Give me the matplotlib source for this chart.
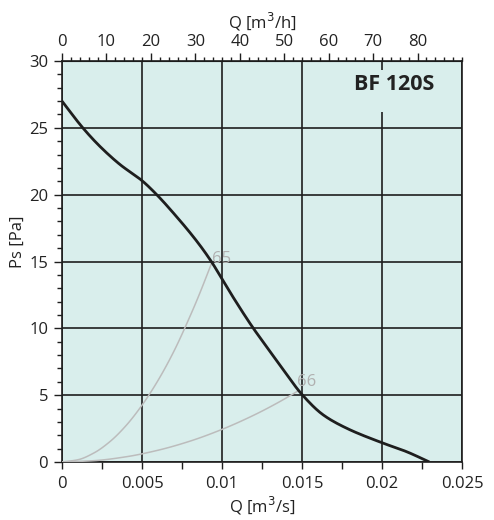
import numpy as np
import matplotlib
matplotlib.use("Agg")
import matplotlib.pyplot as plt
from matplotlib.patches import Rectangle
from matplotlib.ticker import MultipleLocator

plt.rcParams['font.family'] = ['Open Sans', 'DejaVu Sans']

# fan curve BF 120S
fan_q = [0, 0.0013, 0.00238, 0.00363, 0.005, 0.00592, 0.00696, 0.0085, 0.00936,
         0.01, 0.01071, 0.01196, 0.01279, 0.01383, 0.015, 0.01633, 0.0178,
         0.02, 0.02154, 0.02296]
fan_ps = [27.0, 25.0, 23.6, 22.25, 21.05, 20.0, 18.63, 16.4, 14.95,
          13.7, 12.3, 10.0, 8.62, 6.9, 5.05, 3.52, 2.52,
          1.44, 0.77, 0.0]

# system curves (grey)
q65 = [0, 0.001, 0.002, 0.003, 0.004, 0.005, 0.006, 0.007, 0.008, 0.0085, 0.00936]
ps65 = [0, 0.17, 0.68, 1.53, 2.72, 4.25, 6.1, 8.3, 10.9, 12.3, 14.9]
q66 = [0, 0.002, 0.004, 0.006, 0.008, 0.01, 0.012, 0.0136, 0.0148]
ps66 = [0, 0.1, 0.39, 0.88, 1.56, 2.44, 3.51, 4.51, 5.35]
sys_labels = [("65", 0.0094, 14.9), ("66", 0.0147, 5.65)]

x_ticks = [0, 0.005, 0.01, 0.015, 0.02, 0.025]
x_ticklabels = ["0", "0.005", "0.01", "0.015", "0.02", "0.025"]
y_ticks = [0, 5, 10, 15, 20, 25, 30]
top_ticks = [0, 10, 20, 30, 40, 50, 60, 70, 80]

BG = '#d9eeec'
INK = '#1e1e1e'
GREY = '#bcbcbc'


def smooth(xs, ys, n=12):
    # monotone cubic (pchip) between the read points, only for drawing
    x = np.asarray(xs, float)
    y = np.asarray(ys, float)
    h = np.diff(x)
    d = np.diff(y) / h
    m = np.zeros_like(x)
    m[0], m[-1] = d[0], d[-1]
    for k in range(1, len(x) - 1):
        if d[k - 1] * d[k] > 0:
            w1 = 2 * h[k] + h[k - 1]
            w2 = h[k] + 2 * h[k - 1]
            m[k] = (w1 + w2) / (w1 / d[k - 1] + w2 / d[k])
    px, py = [x[0]], [y[0]]
    for k in range(len(x) - 1):
        t = np.linspace(0, 1, n + 1)[1:]
        h00 = 2 * t**3 - 3 * t**2 + 1
        h10 = t**3 - 2 * t**2 + t
        h01 = -2 * t**3 + 3 * t**2
        h11 = t**3 - t**2
        px.extend(x[k] + t * h[k])
        py.extend(h00 * y[k] + h10 * h[k] * m[k] + h01 * y[k + 1] + h11 * h[k] * m[k + 1])
    return px, py


fig = plt.figure(figsize=(4.94, 5.2), dpi=100)
ax = fig.add_axes([62 / 494, 58 / 520, 400 / 494, 401 / 520])
ax.set_facecolor(BG)
ax.set_xlim(0, 0.025)
ax.set_ylim(0, 30)

ax.set_xticks(x_ticks)
ax.set_xticklabels(x_ticklabels)
ax.xaxis.set_minor_locator(MultipleLocator(0.0025))
ax.set_yticks(y_ticks)
ax.yaxis.set_minor_locator(MultipleLocator(1))
ax.tick_params(axis='both', which='both', direction='out', color=INK,
               labelsize=12, labelcolor='#222222', width=1.0)
ax.tick_params(axis='x', which='major', length=5, pad=5)
ax.tick_params(axis='x', which='minor', length=5)
ax.tick_params(axis='y', which='major', length=6, pad=4)
ax.tick_params(axis='y', which='minor', length=3.5)
ax.grid(True, which='major', color=INK, linewidth=1.2, zorder=1)
ax.set_axisbelow(True)
for s in ax.spines.values():
    s.set_color(INK)
    s.set_linewidth(1.2)

ax.set_xlabel('Q [m$^3$/s]', fontsize=12, color='#222222', labelpad=2)
ax.set_ylabel('Ps [Pa]', fontsize=12, color='#222222')
ax.yaxis.set_label_coords(-0.09, 0.55)

# top axis in m3/h
top = ax.secondary_xaxis('top', functions=(lambda q: q * 3600, lambda h: h / 3600))
top.set_xticks(top_ticks)
top.xaxis.set_minor_locator(MultipleLocator(2))
top.tick_params(which='major', length=6, width=1.0, color=INK, labelsize=12,
                labelcolor='#222222', pad=2)
top.tick_params(which='minor', length=3, width=1.0, color=INK)
top.set_xlabel('Q [m$^3$/h]', fontsize=12, color='#222222', labelpad=4)

# curves
ax.plot(*smooth(q65, ps65), color=GREY, linewidth=1.1, zorder=3)
ax.plot(*smooth(q66, ps66), color=GREY, linewidth=1.1, zorder=3)
for txt, lx, ly in sys_labels:
    ax.text(lx, ly, txt, color='#b0b0b0', fontsize=12, ha='left', va='baseline', zorder=4)
ax.plot(*smooth(fan_q, fan_ps), color=INK, linewidth=2.0, zorder=5, solid_capstyle='butt')

# title box covering the grid
ax.add_patch(Rectangle((0.7075, 0.873), 0.2525, 0.105, transform=ax.transAxes,
                       facecolor=BG, edgecolor='none', zorder=2))
ax.text(0.83, 0.9405, 'BF 120S', transform=ax.transAxes, fontsize=15.5,
        fontweight='bold', color='#222222', ha='center', va='center', zorder=6)

fig.savefig('out.png', dpi=100)
